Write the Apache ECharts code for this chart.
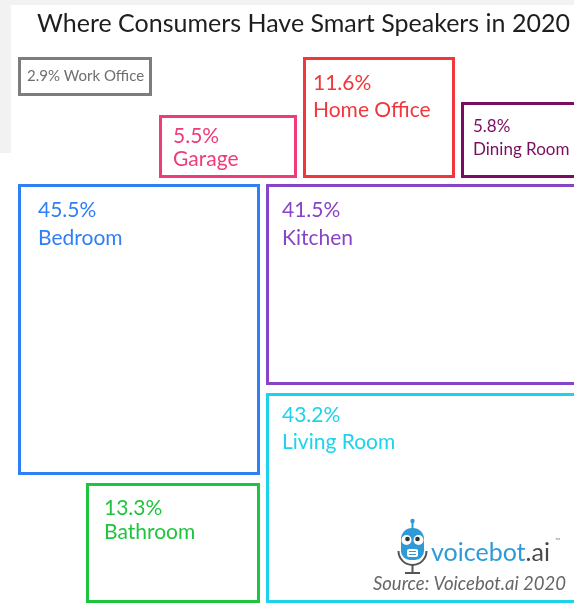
<!DOCTYPE html>
<html>
<head>
<meta charset="utf-8">
<script src="https://cdn.jsdelivr.net/npm/echarts@6/dist/echarts.min.js"></script>
<style>
  html, body { margin: 0; padding: 0; background: #fff; }
  #main { width: 574px; height: 604px; }
</style>
</head>
<body>
<div id="main"></div>
<script>
// share of smart speaker owners with a device in each room
var rooms = ['Bedroom', 'Living Room', 'Kitchen', 'Bathroom', 'Home Office', 'Dining Room', 'Garage', 'Work Office'];
var shares = [45.5, 43.2, 41.5, 13.3, 11.6, 5.8, 5.5, 2.9];

// hand-made layout of the boxes, in axis units [x0, y0, x1, y1]
var boxes = [
  [18, 184, 260, 475],
  [266, 393, 590, 603],
  [266, 184, 590, 385],
  [86, 483, 260, 603],
  [303, 57, 455, 178],
  [461, 102, 590, 178],
  [159, 115, 297, 178],
  [18, 57, 152, 96]
];
// text offsets inside each box [dx, line1 dy, line2 dy, font size]
var labelPos = [
  [20, 26, 54, 21],
  [16, 22.5, 49.5, 21],
  [16, 26, 54, 21],
  [18, 25, 49, 21],
  [10, 26, 53, 21],
  [12, 25, 47.5, 17],
  [14, 21, 44.5, 21],
  [9, 19.5, 0, 15]
];
var colors = ['#2f7ff5', '#1dd3ec', '#8744c7', '#1fc43e', '#f1373b', '#7b0d61', '#ee3b79', '#7d7d7d'];
var textColors = ['#2f7ff5', '#1dd3ec', '#8744c7', '#1fc43e', '#f1373b', '#7b0d61', '#ee3b79', '#6f6f6f'];

var FONT = 'Lato, "Open Sans", sans-serif';

var chart = echarts.init(document.getElementById('main'));

function renderBox(params, api) {
  var i = api.value(0);
  var b = boxes[i];
  var lp = labelPos[i];
  var p0 = api.coord([b[0], b[1]]);
  var p1 = api.coord([b[2], b[3]]);
  var lw = 3;
  var pct = shares[i].toFixed(1) + '%';
  var children = [{
    type: 'rect',
    shape: {x: p0[0] + lw / 2, y: p0[1] + lw / 2, width: p1[0] - p0[0] - lw, height: p1[1] - p0[1] - lw},
    style: {fill: 'none', stroke: colors[i], lineWidth: lw}
  }];
  if (lp[2] > 0) {
    children.push({
      type: 'text', x: p0[0] + lp[0], y: p0[1] + lp[1],
      style: {text: pct, fill: textColors[i], font: lp[3] + 'px ' + FONT, verticalAlign: 'middle'}
    });
    children.push({
      type: 'text', x: p0[0] + lp[0], y: p0[1] + lp[2],
      style: {text: rooms[i], fill: textColors[i], font: lp[3] + 'px ' + FONT, verticalAlign: 'middle'}
    });
  } else {
    children.push({
      type: 'text', x: p0[0] + lp[0], y: p0[1] + lp[1],
      style: {text: pct + ' ' + rooms[i], fill: textColors[i], font: lp[3] + 'px ' + FONT, verticalAlign: 'middle'}
    });
  }
  return {type: 'group', children: children};
}

var BLUE = '#2e9ad8';
var GREY = '#555';

chart.setOption({
  backgroundColor: '#fff',
  animation: false,
  title: {
    text: 'Where Consumers Have Smart Speakers in 2020',
    left: 32,
    top: 6,
    textStyle: {fontFamily: FONT, fontSize: 25, fontWeight: 'normal', color: '#1e1e1e'}
  },
  grid: {left: 0, right: 0, top: 0, bottom: 0},
  xAxis: {type: 'value', min: 0, max: 574, show: false},
  yAxis: {type: 'value', min: 0, max: 604, inverse: true, show: false},
  graphic: [
    // grey page behind the top-left corner of the crop
    {type: 'rect', z: -10, shape: {x: 0, y: 0, width: 574, height: 5}, style: {fill: '#f2f2f2'}},
    {type: 'rect', z: -10, shape: {x: 0, y: 0, width: 11, height: 153}, style: {fill: '#f2f2f2'}},
    // voicebot logo: robot with microphone stand
    {type: 'line', z: 50, shape: {x1: 412.5, y1: 521, x2: 412.5, y2: 530}, style: {stroke: BLUE, lineWidth: 2}},
    {type: 'circle', z: 50, shape: {cx: 412.5, cy: 521, r: 2.2}, style: {fill: BLUE}},
    {type: 'arc', z: 50, shape: {cx: 412.5, cy: 551, r: 14, startAngle: 0, endAngle: Math.PI, clockwise: true}, style: {stroke: GREY, lineWidth: 2, fill: 'none'}},
    {type: 'line', z: 50, shape: {x1: 412.5, y1: 565, x2: 412.5, y2: 573}, style: {stroke: GREY, lineWidth: 2}},
    {type: 'line', z: 50, shape: {x1: 405, y1: 573, x2: 420, y2: 573}, style: {stroke: GREY, lineWidth: 2}},
    {type: 'rect', z: 51, shape: {x: 401, y: 528, width: 23, height: 32, r: [11, 11, 9, 9]}, style: {fill: BLUE}},
    {type: 'circle', z: 52, shape: {cx: 406.5, cy: 540, r: 5}, style: {fill: '#fff'}},
    {type: 'circle', z: 52, shape: {cx: 418.5, cy: 540, r: 5}, style: {fill: '#fff'}},
    {type: 'circle', z: 53, shape: {cx: 407.5, cy: 539, r: 2.3}, style: {fill: '#333'}},
    {type: 'circle', z: 53, shape: {cx: 417.5, cy: 539, r: 2.3}, style: {fill: '#333'}},
    {type: 'rect', z: 52, shape: {x: 407, y: 549, width: 11, height: 8, r: 2}, style: {fill: '#fff'}},
    {type: 'line', z: 53, shape: {x1: 409, y1: 551.5, x2: 416, y2: 551.5}, style: {stroke: BLUE, lineWidth: 1}},
    {type: 'line', z: 53, shape: {x1: 409, y1: 554.5, x2: 416, y2: 554.5}, style: {stroke: BLUE, lineWidth: 1}},
    {
      type: 'text', z: 50, x: 431, y: 553,
      style: {
        text: '{b|voicebot}{g|.ai}',
        verticalAlign: 'middle',
        rich: {
          b: {fill: BLUE, font: '25px ' + FONT},
          g: {fill: '#4a4a4a', font: '25px ' + FONT}
        }
      }
    },
    {type: 'text', z: 50, x: 555, y: 541, style: {text: '™', fill: '#888', font: '7px ' + FONT, verticalAlign: 'middle'}},
    {type: 'text', z: 50, x: 566, y: 584, style: {text: 'Source: Voicebot.ai 2020', fill: '#666', font: 'italic 18.5px ' + FONT, align: 'right', verticalAlign: 'middle'}}
  ],
  series: [{
    type: 'custom',
    renderItem: renderBox,
    data: shares.map(function (v, i) { return [i, v]; }),
    encode: {x: -1, y: -1}
  }]
});
</script>
</body>
</html>
